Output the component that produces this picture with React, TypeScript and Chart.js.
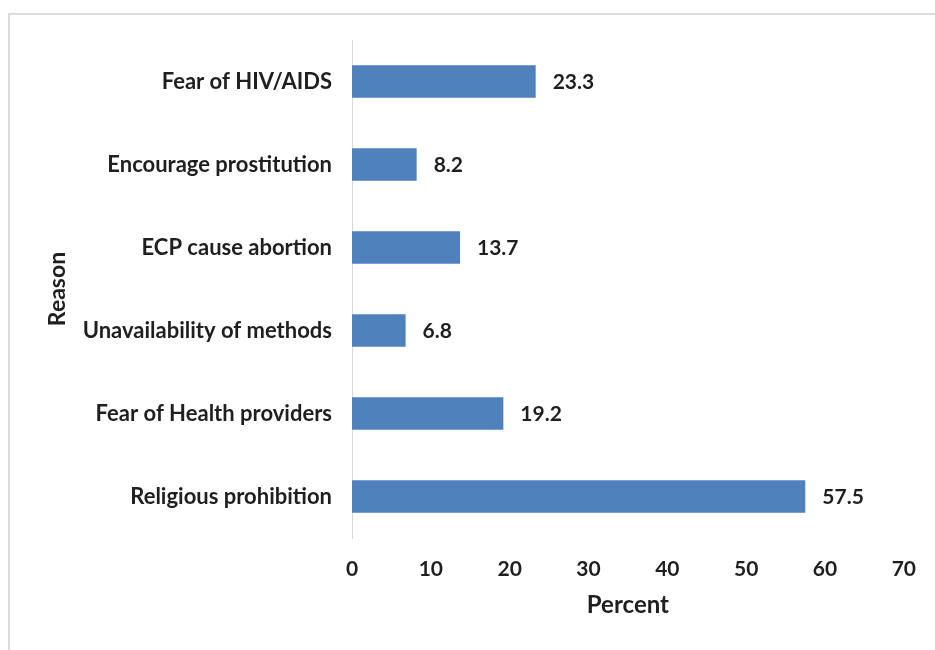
import React, { useEffect, useRef } from "react";
import { Chart, registerables } from "chart.js";

Chart.register(...registerables);

const categories = [
  "Fear of HIV/AIDS",
  "Encourage prostitution",
  "ECP cause abortion",
  "Unavailability of methods",
  "Fear of Health providers",
  "Religious prohibition",
];
const values = [23.3, 8.2, 13.7, 6.8, 19.2, 57.5];
const xTitle = "Percent";
const yTitle = "Reason";

const FONT = "Lato, Carlito, Calibri, 'Open Sans', sans-serif";
const TEXT = "#1f1f1f";

const dataLabels = {
  id: "dataLabels",
  afterDatasetsDraw(chart: any) {
    const ctx = chart.ctx;
    const meta = chart.getDatasetMeta(0);
    ctx.save();
    ctx.font = `bold 21px ${FONT}`;
    ctx.fillStyle = TEXT;
    ctx.textAlign = "left";
    ctx.textBaseline = "middle";
    meta.data.forEach((bar: any, i: number) => {
      ctx.fillText(String(values[i].toFixed(1)), bar.x + 17, bar.y + 1);
    });
    ctx.restore();
  },
};

const yAxisTitle = {
  id: "yAxisTitle",
  afterDraw(chart: any) {
    const ctx = chart.ctx;
    const area = chart.chartArea;
    ctx.save();
    ctx.font = `bold 23px ${FONT}`;
    ctx.fillStyle = TEXT;
    ctx.textAlign = "center";
    ctx.textBaseline = "middle";
    ctx.translate(58, (area.top + area.bottom) / 2);
    ctx.rotate(-Math.PI / 2);
    ctx.fillText(yTitle, 0, 0);
    ctx.restore();
  },
};

export default function App() {
  const ref = useRef<HTMLCanvasElement | null>(null);
  useEffect(() => {
    if (!ref.current) return;
    const chart = new Chart(ref.current, {
      type: "bar",
      data: {
        labels: categories,
        datasets: [
          {
            data: values,
            backgroundColor: "#4F81BD",
            borderWidth: 0,
            barPercentage: 0.39,
            categoryPercentage: 1,
          },
        ],
      },
      options: {
        indexAxis: "y",
        animation: false,
        responsive: false,
        maintainAspectRatio: false,
        layout: { padding: { top: 40, right: 29, left: 0, bottom: 0 } },
        plugins: { legend: { display: false }, tooltip: { enabled: false } },
        scales: {
          x: {
            min: 0,
            max: 70,
            ticks: {
              stepSize: 10,
              padding: 19,
              color: TEXT,
              font: { family: FONT, size: 21, weight: "bold" },
            },
            grid: { display: false, drawTicks: false },
            border: { display: false },
            title: {
              display: true,
              text: xTitle,
              color: TEXT,
              padding: { top: 0, bottom: 30 },
              font: { family: FONT, size: 24, weight: "bold" },
            },
            afterFit: (s: any) => {
              s.height = 112;
            },
          },
          y: {
            ticks: {
              padding: 20,
              color: TEXT,
              font: { family: FONT, size: 22, weight: "bold" },
            },
            grid: { display: false, drawTicks: false },
            border: { display: true, color: "#d9d9d9", width: 1 },
            title: { display: false },
            afterFit: (s: any) => {
              s.width = 352;
            },
          },
        },
      },
      plugins: [dataLabels, yAxisTitle],
    });
    return () => chart.destroy();
  }, []);

  return (
    <div
      style={{
        position: "absolute",
        left: 0,
        top: 0,
        width: 935,
        height: 650,
        background: "#fff",
        overflow: "hidden",
      }}
    >
      <div
        style={{
          position: "absolute",
          left: 8,
          top: 13,
          width: 940,
          height: 660,
          borderTop: "2px solid #dcdcdc",
          borderLeft: "2px solid #dcdcdc",
        }}
      />
      <canvas
        ref={ref}
        width={935}
        height={650}
        style={{ position: "absolute", left: 0, top: 0, width: 935, height: 650 }}
      />
    </div>
  );
}
